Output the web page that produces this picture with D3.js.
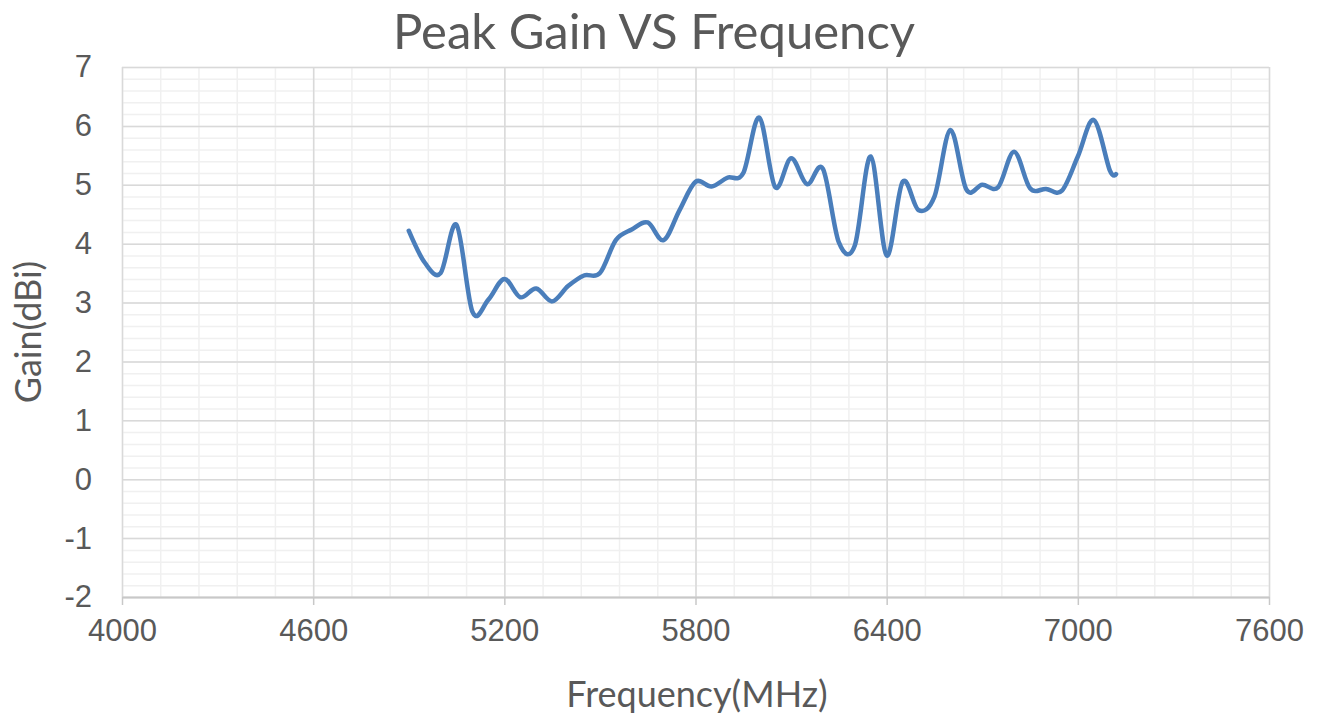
<!DOCTYPE html>
<html>

<head>
  <title>Peak Gain VS Frequency</title>
  <script src="https://cdn.jsdelivr.net/npm/d3@7"></script>
  <style type="text/css">
    html,
    body {
      margin: 0;
      padding: 0;
      background: #fff;
    }

    svg {
      display: block;
      font-family: Lato, "Open Sans", sans-serif;
    }

    .grid-minor line {
      stroke: #f0f0f0;
      stroke-width: 1.5px;
    }

    .grid-major line {
      stroke: #d9d9d9;
      stroke-width: 1.5px;
    }

    .axis .domain {
      stroke: #c8c8c8;
      stroke-width: 2px;
    }

    .axis .tick line {
      stroke: #c8c8c8;
      stroke-width: 1.5px;
    }

    .axis text {
      fill: #595959;
      font-size: 31px;
    }

    .line {
      fill: none;
      stroke: #4a7ebb;
      stroke-width: 4.5px;
      stroke-linecap: round;
      stroke-linejoin: round;
    }

    .title {
      fill: #595959;
      font-size: 49px;
    }

    .label {
      fill: #595959;
      font-size: 36px;
    }
  </style>
</head>

<body>
  <svg class="svg"></svg>
  <script type="text/javascript">
    // 頻率 (MHz)
    var freq = [4900, 4950, 5000, 5050, 5100, 5150, 5200, 5250, 5300, 5350,
      5400, 5450, 5500, 5550, 5600, 5650, 5700, 5750, 5800, 5850,
      5900, 5950, 6000, 6050, 6100, 6150, 6200, 6250, 6300, 6350,
      6400, 6450, 6500, 6550, 6600, 6650, 6700, 6750, 6800, 6850,
      6900, 6950, 7000, 7050, 7100, 7120];

    // 增益 (dBi)
    var gain = [4.22, 3.68, 3.50, 4.32, 2.84, 3.05, 3.40, 3.09, 3.24, 3.02,
      3.28, 3.46, 3.50, 4.06, 4.24, 4.36, 4.06, 4.57, 5.05, 4.97,
      5.12, 5.20, 6.14, 4.96, 5.45, 5.01, 5.27, 4.02, 3.97, 5.48,
      3.80, 5.05, 4.57, 4.80, 5.93, 4.92, 5.00, 4.96, 5.56, 4.94,
      4.93, 4.90, 5.48, 6.10, 5.25, 5.18];

    var xTicks = [4000, 4600, 5200, 5800, 6400, 7000, 7600];
    var yTicks = [-2, -1, 0, 1, 2, 3, 4, 5, 6, 7];

    var data = freq.map((f, i) => ({ f: f, g: gain[i] }));

    var W = 1322, H = 721;
    var margin = { left: 122, top: 67, right: 53, bottom: 124 };
    var width = W - margin.left - margin.right,
      height = H - margin.top - margin.bottom;

    var svg = d3.select('.svg')
      .attr('width', W)
      .attr('height', H);

    var g = svg.append('g')
      .attr('transform', `translate(${margin.left}, ${margin.top})`);

    var xScale = d3.scaleLinear()
      .domain([4000, 7600])
      .range([0, width]);

    var yScale = d3.scaleLinear()
      .domain([-2, 7])
      .range([height, 0]);

    // 次格線
    var xMinor = d3.range(4000, 7601, 120);
    var yMinor = d3.range(-2, 7.001, 0.2);

    g.append('g')
      .attr('class', 'grid-minor')
      .call(d3.axisBottom(xScale).tickValues(xMinor).tickSize(height).tickFormat(''))
      .call(s => s.select('.domain').remove());

    g.append('g')
      .attr('class', 'grid-minor')
      .call(d3.axisLeft(yScale).tickValues(yMinor).tickSize(-width).tickFormat(''))
      .call(s => s.select('.domain').remove());

    // 主格線
    g.append('g')
      .attr('class', 'grid-major')
      .call(d3.axisBottom(xScale).tickValues(xTicks).tickSize(height).tickFormat(''))
      .call(s => s.select('.domain').remove());

    g.append('g')
      .attr('class', 'grid-major')
      .call(d3.axisLeft(yScale).tickValues(yTicks).tickSize(-width).tickFormat(''))
      .call(s => s.select('.domain').remove());

    // 座標軸
    g.append('g')
      .attr('class', 'x axis')
      .attr('transform', `translate(0, ${height})`)
      .call(d3.axisBottom(xScale)
        .tickValues(xTicks)
        .tickSizeInner(8)
        .tickSizeOuter(0)
        .tickPadding(14)
        .tickFormat(d3.format('d')));

    g.append('g')
      .attr('class', 'y axis')
      .call(d3.axisLeft(yScale)
        .tickValues(yTicks)
        .tickSize(0)
        .tickPadding(30)
        .tickFormat(d3.format('d')))
      .call(s => s.select('.domain').remove());

    g.select('.y.axis').selectAll('.tick text')
      .text(d => d < 0 ? '-' + Math.abs(d) : d);

    // 畫線
    var linePath = d3.line()
      .x(d => xScale(d.f))
      .y(d => yScale(d.g))
      .curve(d3.curveCardinal.tension(0));

    g.append('path')
      .datum(data)
      .attr('class', 'line')
      .attr('d', linePath);

    // 標題
    svg.append('text')
      .attr('class', 'title')
      .attr('x', 654)
      .attr('y', 49)
      .attr('text-anchor', 'middle')
      .text('Peak Gain VS Frequency');

    svg.append('text')
      .attr('class', 'label')
      .attr('x', 697)
      .attr('y', 707)
      .attr('text-anchor', 'middle')
      .text('Frequency(MHz)');

    svg.append('text')
      .attr('class', 'label')
      .attr('transform', `translate(41, 332) rotate(-90)`)
      .attr('text-anchor', 'middle')
      .text('Gain(dBi)');
  </script>
</body>

</html>
